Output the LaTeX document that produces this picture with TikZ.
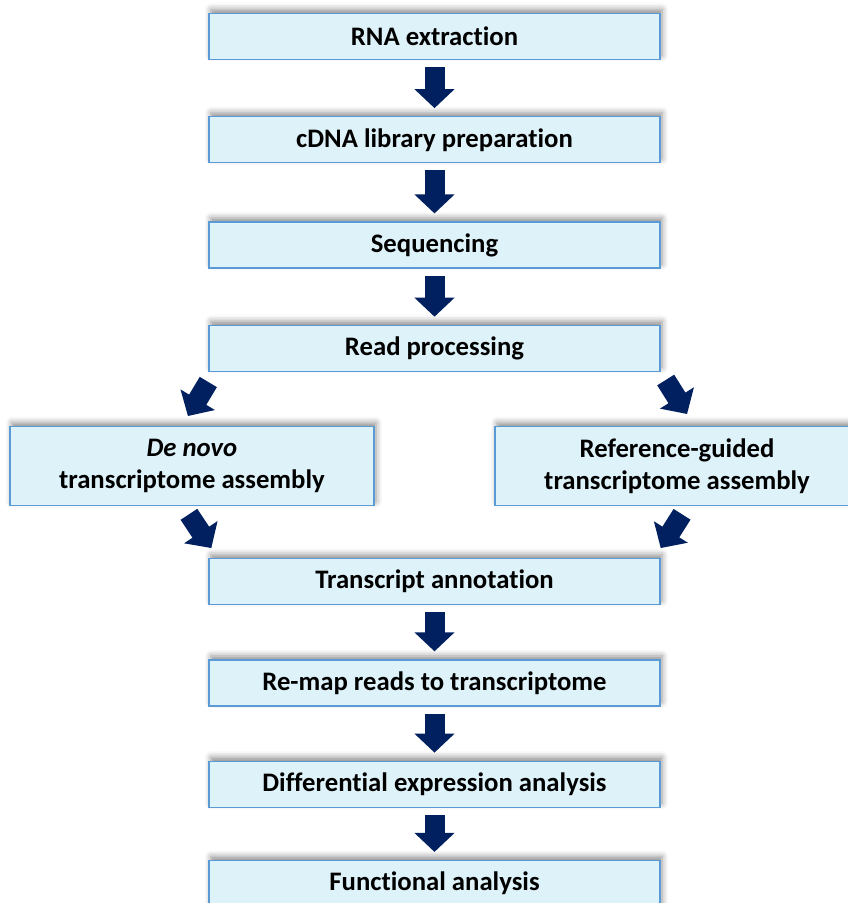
\documentclass[tikz,border=0pt]{standalone}
\usepackage{fontspec}
\setmainfont{Carlito}[Ligatures=NoCommon]
\usetikzlibrary{positioning, arrows.meta, shadows.blur}
\definecolor{boxfill}{RGB}{222, 242, 249}
\definecolor{boxline}{RGB}{91, 155, 213}
\definecolor{navy}{RGB}{0, 32, 96}

\begin{document}
\begin{tikzpicture}[
  x=0.025cm, y=0.025cm,
  every node/.style = {font=\fontsize{19}{23}\selectfont\bfseries},
  stepbox/.style  = {rectangle, draw=boxline, line width=0.9pt, fill=boxfill,
                     minimum width=11.275cm, minimum height=1.15cm,
                     align=center,
                     blur shadow={shadow xshift=0.05cm, shadow yshift=0.1cm,
                                  shadow blur radius=0.15cm, shadow opacity=45}},
  sidebox/.style  = {stepbox, minimum width=9.1cm, minimum height=1.975cm},
  blockarr/.style = {draw=navy, line width=0.5cm,
                     -{Triangle[length=0.475cm, width=0.975cm]}},
  vert/.style     = {blockarr, shorten <=0.175cm, shorten >=0.2cm}
]
\useasboundingbox (0,0) rectangle (848,903);
\clip (0,0) rectangle (848,903);

% main column
\node[stepbox] (rna) at (434.5,866.5) {RNA extraction};
\node[stepbox, below=1.4cm of rna]        (cdna)     {cDNA library preparation};
\node[stepbox, below=1.45cm of cdna]      (seq)      {Sequencing};
\node[stepbox, below=1.4cm of seq]        (readproc) {Read processing};

% two assembly routes
\node[sidebox, below=1.35cm of readproc, xshift=-6.0625cm]
  (denovo)    {\textit{De novo}\\transcriptome assembly};
\node[sidebox, below=1.35cm of readproc, xshift=6.0625cm]
  (refguided) {Reference-guided\\transcriptome assembly};

\node[stepbox, below=4.65cm of readproc]  (annot)    {Transcript annotation};
\node[stepbox, below=1.35cm of annot]     (remap)    {Re-map reads to transcriptome};
\node[stepbox, below=1.35cm of remap]     (diffexp)  {Differential expression analysis};
\node[stepbox, below=1.3cm of diffexp]    (func)     {Functional analysis};

% arrows
\draw[vert] (rna)  -- (cdna);
\draw[vert] (cdna) -- (seq);
\draw[vert] (seq)  -- (readproc);
\draw[blockarr] ([shift={(0,-10)}]readproc.south west) -- ([shift={(-4,10)}]denovo.north);
\draw[blockarr] ([shift={(5,-8)}]readproc.south east)  -- ([shift={(10,12)}]refguided.north);
\draw[blockarr] ([shift={(-3,-8)}]denovo.south)        -- ([shift={(3,10)}]annot.north west);
\draw[blockarr] ([shift={(5,-8)}]refguided.south)      -- ([shift={(0,10)}]annot.north east);
\draw[vert] (annot)   -- (remap);
\draw[vert] (remap)   -- (diffexp);
\draw[vert] (diffexp) -- (func);
\end{tikzpicture}
\end{document}
